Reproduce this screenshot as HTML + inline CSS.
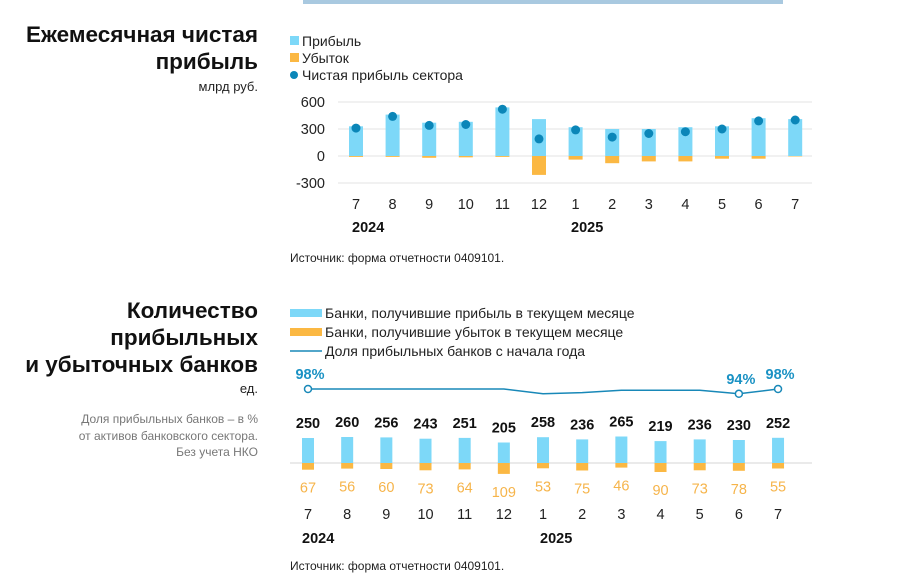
<!DOCTYPE html>
<html><head><meta charset="utf-8"><style>
body{margin:0;width:901px;height:583px;background:#fff;overflow:hidden;font-family:"Liberation Sans",sans-serif;position:relative}
.t{position:absolute;right:643px;text-align:right;font-weight:bold;font-size:22.5px;color:#111;white-space:nowrap}
.s{position:absolute;right:643px;text-align:right;font-size:13px;color:#222}
.g{position:absolute;right:643px;text-align:right;font-size:12px;color:#777;line-height:16.5px}
svg{position:absolute;left:0;top:0}
</style></head><body>
<div style="position:absolute;left:303px;top:0;width:480px;height:4px;background:#a9c9e0"></div>
<div class="t" style="top:21px;line-height:27px">Ежемесячная чистая<br>прибыль</div>
<div class="s" style="top:79px">млрд руб.</div>
<div class="t" style="top:297px;line-height:27px">Количество<br>прибыльных<br>и убыточных банков</div>
<div class="s" style="top:381px">ед.</div>
<div class="g" style="top:411px">Доля прибыльных банков – в %<br>от активов банковского сектора.<br>Без учета НКО</div>
<svg id="c" width="901" height="583" font-family="Liberation Sans, sans-serif"></svg>
<script>
const months=["7","8","9","10","11","12","1","2","3","4","5","6","7"];
const profit=[330,460,370,380,540,410,320,300,300,320,330,420,410];
const loss=[-10,-10,-20,-15,-10,-210,-40,-80,-60,-60,-30,-30,-5];
const net=[310,440,340,350,520,190,290,210,250,270,300,390,400];
const yTicks=[600,300,0,-300];
const banksProfit=[250,260,256,243,251,205,258,236,265,219,236,230,252];
const banksLoss=[67,56,60,73,64,109,53,75,46,90,73,78,55];
const share=[98,98,98,98,98,98,94,95,97,97,97,94,98];
const shareLabels={0:"98%",11:"94%",12:"98%"};
const svg=document.getElementById('c');const NS="http://www.w3.org/2000/svg";
function mk(t,a,txt){const e=document.createElementNS(NS,t);for(const k in a)e.setAttribute(k,a[k]);if(txt!=null)e.textContent=txt;svg.appendChild(e);return e;}
const x=i=>356+i*36.6;
const xb=i=>308+i*39.17;
const y1=v=>156-v*27/300;
const y2=v=>463-v*0.1;
const yl=v=>389+(98-v)*1.2;
let e;
e=mk('rect',{x:290,y:36,width:9,height:9,fill:'#7dd8f8'});
e=mk('text',{x:302,y:46,'font-size':14,fill:'#222'},'Прибыль');
e=mk('rect',{x:290,y:53,width:9,height:9,fill:'#fbb843'});
e=mk('text',{x:302,y:63,'font-size':14,fill:'#222'},'Убыток');
e=mk('circle',{cx:294,cy:75,r:4,fill:'#0b86b8'});
e=mk('text',{x:302,y:80,'font-size':14,fill:'#222'},'Чистая прибыль сектора');
yTicks.forEach(v=>{
 e=mk('line',{x1:338,x2:812,y1:y1(v),y2:y1(v),stroke:'#e3e3e3','stroke-width':1});
 e=mk('text',{x:325,y:y1(v)+5,'font-size':14.5,fill:'#222','text-anchor':'end'},String(v));
});
months.forEach((m,i)=>{
 e=mk('rect',{x:x(i)-7,y:y1(profit[i]),width:14,height:y1(0)-y1(profit[i]),fill:'#7dd8f8'});
 e=mk('rect',{x:x(i)-7,y:y1(0),width:14,height:y1(loss[i])-y1(0),fill:'#fbb843'});
 e=mk('circle',{cx:x(i),cy:y1(net[i]),r:4.5,fill:'#0b86b8'});
 e=mk('text',{x:x(i),y:209,'font-size':14.5,fill:'#222','text-anchor':'middle'},m);
});
e=mk('text',{x:352,y:232,'font-size':14.5,'font-weight':'bold',fill:'#111'},'2024');
e=mk('text',{x:571,y:232,'font-size':14.5,'font-weight':'bold',fill:'#111'},'2025');
e=mk('text',{x:290,y:262,'font-size':12,fill:'#222'},'Источник: форма отчетности 0409101.');
e=mk('rect',{x:290,y:309,width:32,height:8,fill:'#7dd8f8'});
e=mk('text',{x:325,y:318,'font-size':14,fill:'#222'},'Банки, получившие прибыль в текущем месяце');
e=mk('rect',{x:290,y:328,width:32,height:8,fill:'#fbb843'});
e=mk('text',{x:325,y:337,'font-size':14,fill:'#222'},'Банки, получившие убыток в текущем месяце');
e=mk('line',{x1:290,x2:322,y1:351,y2:351,stroke:'#1888b8','stroke-width':1.5});
e=mk('text',{x:325,y:356,'font-size':14,fill:'#222'},'Доля прибыльных банков с начала года');
e=mk('line',{x1:290,x2:812,y1:463,y2:463,stroke:'#e3e3e3','stroke-width':1.5});
e=mk('polyline',{points:share.map((v,i)=>xb(i)+','+yl(v)).join(' '),fill:'none',stroke:'#1888b8','stroke-width':1.5});
months.forEach((m,i)=>{
 const cx=xb(i);
 e=mk('rect',{x:cx-6,y:y2(banksProfit[i]),width:12,height:y2(0)-y2(banksProfit[i]),fill:'#7dd8f8'});
 e=mk('rect',{x:cx-6,y:y2(0),width:12,height:banksLoss[i]*0.1,fill:'#fbb843'});
 e=mk('text',{x:cx,y:y2(banksProfit[i])-10,'font-size':14.5,'font-weight':'bold',fill:'#111','text-anchor':'middle'},String(banksProfit[i]));
 e=mk('text',{x:cx,y:y2(0)+banksLoss[i]*0.1+23,'font-size':14.5,fill:'#f6b44a','text-anchor':'middle'},String(banksLoss[i]));
 e=mk('text',{x:cx,y:519,'font-size':14.5,fill:'#222','text-anchor':'middle'},m);
 if(shareLabels[i]){
  e=mk('circle',{cx:cx,cy:yl(share[i]),r:3.5,fill:'#fff',stroke:'#1888b8','stroke-width':1.5});
  e=mk('text',{x:cx+2,y:yl(share[i])-10,'font-size':14.5,'font-weight':'bold',fill:'#1a92c4','text-anchor':'middle'},shareLabels[i]);
 }
});
e=mk('text',{x:302,y:543,'font-size':14.5,'font-weight':'bold',fill:'#111'},'2024');
e=mk('text',{x:540,y:543,'font-size':14.5,'font-weight':'bold',fill:'#111'},'2025');
e=mk('text',{x:290,y:570,'font-size':12,fill:'#222'},'Источник: форма отчетности 0409101.');
</script>
</body></html>
